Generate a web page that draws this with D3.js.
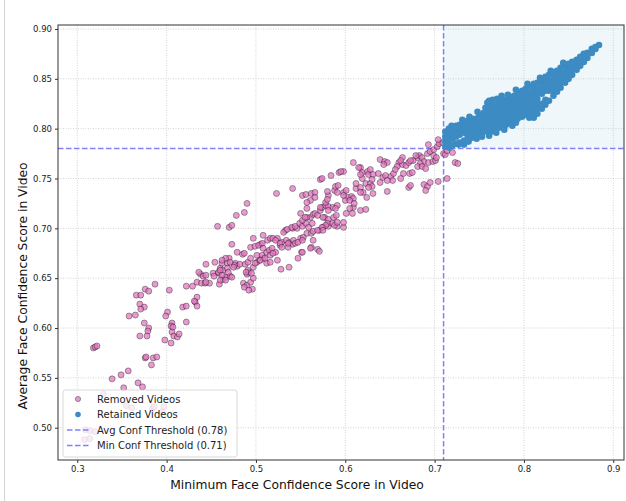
<!DOCTYPE html>
<html>
<head>
<meta charset="utf-8">
<script src="https://cdn.jsdelivr.net/npm/d3@7"></script>
<style>
body { margin: 0; background: #fff; }
text { font-family: "DejaVu Sans", sans-serif; }
</style>
</head>
<body>
<svg id="chart" width="626" height="501"></svg>
<script>
// min / avg face confidence per video
var removedVideos = [
  [0.308,0.488],[0.314,0.489],[0.309,0.498],[0.314,0.497],[0.320,0.496],[0.329,0.534],[0.318,0.580],[0.320,0.581],[0.322,0.582],[0.339,0.549],
  [0.349,0.553],[0.357,0.557],[0.352,0.540],[0.368,0.545],[0.373,0.541],[0.355,0.522],[0.361,0.520],[0.384,0.519],[0.386,0.521],[0.397,0.521],
  [0.395,0.516],[0.376,0.570],[0.377,0.571],[0.385,0.570],[0.389,0.571],[0.383,0.563],[0.398,0.588],[0.405,0.585],[0.406,0.596],[0.408,0.592],
  [0.412,0.591],[0.414,0.594],[0.406,0.605],[0.405,0.602],[0.407,0.601],[0.422,0.606],[0.380,0.600],[0.379,0.597],[0.378,0.592],[0.370,0.592],
  [0.375,0.605],[0.358,0.612],[0.365,0.613],[0.401,0.616],[0.399,0.612],[0.370,0.624],[0.375,0.621],[0.371,0.619],[0.366,0.633],[0.371,0.633],
  [0.376,0.639],[0.380,0.637],[0.387,0.644],[0.403,0.638],
  [0.422,0.642],[0.429,0.642],[0.434,0.646],[0.439,0.645],[0.443,0.645],[0.448,0.645],[0.432,0.626],[0.434,0.631],[0.434,0.622],[0.418,0.621],
  [0.422,0.622],[0.431,0.627],[0.438,0.654],[0.444,0.646],[0.452,0.655],[0.458,0.655],[0.460,0.660],[0.462,0.665],[0.468,0.665],[0.470,0.670],
  [0.477,0.665],[0.479,0.662],[0.482,0.664],[0.486,0.645],[0.490,0.643],[0.494,0.646],[0.496,0.639],[0.490,0.654],[0.492,0.656],[0.497,0.661],
  [0.501,0.666],[0.504,0.668],[0.508,0.670],[0.436,0.656],[0.441,0.652],[0.444,0.653],[0.444,0.664],[0.454,0.666],[0.453,0.652],[0.458,0.656],
  [0.459,0.644],[0.463,0.658],[0.468,0.660],[0.471,0.666],[0.476,0.663],[0.463,0.649],[0.466,0.651],[0.471,0.652],[0.469,0.656],[0.487,0.641],
  [0.491,0.658],[0.489,0.656],[0.497,0.650],[0.492,0.638],
  [0.457,0.702],[0.470,0.701],[0.473,0.703],[0.478,0.713],[0.487,0.716],[0.490,0.725],[0.473,0.684],[0.497,0.690],[0.479,0.676],[0.485,0.674],
  [0.487,0.675],[0.494,0.681],[0.499,0.682],[0.505,0.684],[0.501,0.673],[0.507,0.673],[0.512,0.676],[0.515,0.678],[0.518,0.680],[0.522,0.676],
  [0.505,0.668],[0.512,0.665],[0.516,0.666],[0.524,0.668],[0.508,0.693],[0.513,0.688],[0.516,0.690],[0.519,0.690],[0.524,0.690],
  [0.466,0.670],[0.462,0.668],[0.475,0.661],[0.460,0.658],[0.462,0.653],[0.460,0.648],[0.466,0.648],[0.473,0.651],[0.488,0.664],[0.491,0.666],
  [0.494,0.670],[0.499,0.665],[0.495,0.655],[0.503,0.683],[0.507,0.685],[0.508,0.680],[0.522,0.688],[0.510,0.670],[0.516,0.673],[0.519,0.675],
  [0.527,0.683],[0.529,0.686],[0.533,0.698],[0.541,0.700],[0.546,0.700],[0.537,0.686],[0.541,0.684],[0.536,0.681],[0.550,0.690],[0.553,0.691],
  [0.551,0.676],[0.571,0.698],[0.575,0.701],[0.581,0.702],[0.591,0.702],
  [0.527,0.685],[0.529,0.681],[0.534,0.688],[0.536,0.685],[0.542,0.688],[0.544,0.685],[0.547,0.686],[0.531,0.696],[0.535,0.699],[0.540,0.701],
  [0.544,0.702],[0.549,0.705],[0.552,0.702],[0.556,0.705],[0.559,0.701],[0.563,0.705],[0.528,0.659],[0.537,0.661],[0.547,0.670],[0.552,0.676],
  [0.562,0.681],[0.569,0.679],[0.571,0.677],[0.557,0.695],[0.562,0.695],[0.564,0.697],[0.569,0.698],[0.561,0.711],[0.564,0.714],[0.566,0.715],
  [0.569,0.713],[0.572,0.718],[0.574,0.721],[0.578,0.723],[0.581,0.722],[0.586,0.721],[0.591,0.723],[0.577,0.711],[0.581,0.709],[0.587,0.711],
  [0.590,0.713],[0.580,0.705],[0.586,0.705],[0.588,0.703],[0.591,0.706],[0.552,0.733],[0.556,0.734],[0.562,0.735],[0.566,0.736],[0.581,0.733],
  [0.588,0.738],[0.591,0.736],[0.523,0.735],[0.541,0.740],[0.572,0.749],[0.552,0.708],[0.557,0.711],
  [0.574,0.750],[0.584,0.753],[0.593,0.756],[0.598,0.757],[0.589,0.742],[0.592,0.743],[0.578,0.726],[0.580,0.729],[0.572,0.721],[0.581,0.718],
  [0.589,0.720],[0.598,0.736],[0.601,0.738],[0.603,0.731],[0.607,0.732],[0.609,0.730],[0.600,0.728],[0.609,0.721],[0.605,0.720],[0.608,0.715],
  [0.612,0.740],[0.617,0.741],[0.612,0.745],[0.619,0.750],[0.609,0.766],[0.617,0.761],[0.619,0.756],[0.625,0.757],[0.626,0.754],[0.623,0.745],
  [0.628,0.745],[0.630,0.742],[0.626,0.741],[0.631,0.735],[0.620,0.736],[0.624,0.731],[0.617,0.718],[0.623,0.719],[0.601,0.715],[0.598,0.701],
  [0.575,0.711],[0.578,0.703],[0.574,0.701],
  [0.639,0.769],[0.644,0.767],[0.647,0.766],[0.643,0.764],[0.637,0.755],[0.642,0.751],[0.645,0.753],[0.651,0.752],[0.654,0.755],[0.653,0.748],
  [0.647,0.748],[0.639,0.746],[0.647,0.737],[0.660,0.766],[0.664,0.764],[0.668,0.763],[0.671,0.766],[0.658,0.762],[0.656,0.759],[0.664,0.771],
  [0.672,0.755],[0.675,0.756],[0.665,0.755],[0.662,0.750],[0.671,0.741],[0.673,0.743],[0.676,0.768],[0.681,0.771],[0.683,0.773],[0.686,0.771],
  [0.688,0.767],[0.684,0.765],[0.681,0.762],[0.692,0.775],[0.695,0.777],[0.699,0.779],[0.693,0.784],[0.703,0.782],[0.705,0.785],[0.709,0.786],
  [0.686,0.762],[0.690,0.760],[0.693,0.766],[0.698,0.767],[0.701,0.768],[0.688,0.744],[0.692,0.742],[0.695,0.746],[0.690,0.738],[0.704,0.747],
  [0.714,0.750],[0.699,0.773],[0.702,0.771],[0.710,0.775],[0.712,0.774],[0.714,0.778],[0.720,0.776],[0.723,0.766],[0.726,0.765],[0.704,0.789],
  [0.679,0.773],[0.673,0.768],[0.662,0.768],
  [0.595,0.757],[0.615,0.761],[0.617,0.754],[0.628,0.759],[0.631,0.754],[0.630,0.749],[0.598,0.733],[0.605,0.728],[0.610,0.725],[0.617,0.736],
  [0.580,0.737],[0.566,0.731],[0.561,0.728],[0.557,0.726],[0.557,0.720],[0.550,0.715],[0.555,0.711],[0.598,0.706],[0.575,0.698],[0.564,0.688],
  [0.561,0.680],[0.552,0.688]
];

var retainedVideos = [
  [0.712,0.782],[0.712,0.787],[0.712,0.792],[0.712,0.797],
  [0.716,0.781],[0.716,0.786],[0.716,0.791],[0.716,0.796],[0.716,0.800],
  [0.720,0.783],[0.720,0.790],[0.720,0.795],[0.720,0.801],
  [0.724,0.785],[0.724,0.792],[0.724,0.797],[0.724,0.803],
  [0.728,0.786],[0.728,0.794],[0.728,0.799],[0.728,0.804],[0.727,0.784],
  [0.733,0.784],[0.733,0.788],[0.733,0.796],[0.733,0.801],[0.733,0.806],
  [0.737,0.793],[0.737,0.799],[0.737,0.804],[0.737,0.808],
  [0.742,0.791],[0.742,0.797],[0.742,0.802],[0.742,0.807],[0.742,0.810],
  [0.746,0.795],[0.746,0.800],[0.746,0.805],[0.746,0.810],
  [0.750,0.796],[0.750,0.801],[0.750,0.806],[0.750,0.811],[0.750,0.814],
  [0.755,0.797],[0.755,0.802],[0.755,0.807],[0.755,0.812],[0.755,0.816],
  [0.759,0.798],[0.759,0.804],[0.759,0.809],[0.759,0.814],[0.759,0.819],[0.759,0.826],
  [0.763,0.797],[0.763,0.803],[0.763,0.808],[0.763,0.813],[0.763,0.818],[0.763,0.823],
  [0.767,0.800],[0.767,0.805],[0.767,0.810],[0.767,0.815],[0.767,0.820],[0.767,0.824],
  [0.772,0.801],[0.772,0.806],[0.772,0.811],[0.772,0.816],[0.772,0.821],[0.772,0.826],
  [0.776,0.803],[0.776,0.808],[0.776,0.813],[0.776,0.818],[0.776,0.823],[0.776,0.828],
  [0.780,0.804],[0.780,0.809],[0.780,0.814],[0.780,0.819],[0.780,0.824],[0.780,0.829],[0.782,0.834],
  [0.785,0.806],[0.785,0.811],[0.785,0.816],[0.785,0.821],[0.785,0.826],[0.785,0.831],
  [0.789,0.808],[0.789,0.813],[0.789,0.818],[0.789,0.823],[0.789,0.828],[0.789,0.833],
  [0.793,0.810],[0.793,0.815],[0.793,0.820],[0.793,0.825],[0.793,0.830],[0.793,0.835],
  [0.798,0.812],[0.798,0.817],[0.798,0.822],[0.798,0.827],[0.798,0.832],[0.798,0.838],
  [0.802,0.814],[0.802,0.819],[0.802,0.824],[0.802,0.829],[0.802,0.834],[0.802,0.840],
  [0.806,0.811],[0.806,0.816],[0.806,0.821],[0.806,0.826],[0.806,0.831],[0.806,0.836],[0.806,0.842],
  [0.811,0.811],[0.811,0.816],[0.811,0.821],[0.811,0.826],[0.811,0.831],[0.811,0.836],[0.811,0.841],[0.811,0.845],
  [0.815,0.815],[0.815,0.820],[0.815,0.825],[0.815,0.830],[0.815,0.835],[0.815,0.840],[0.815,0.846],
  [0.820,0.820],[0.820,0.825],[0.820,0.835],[0.820,0.840],[0.820,0.845],[0.820,0.849],
  [0.824,0.824],[0.824,0.829],[0.824,0.838],[0.824,0.843],[0.824,0.848],[0.824,0.852],
  [0.828,0.828],[0.828,0.838],[0.828,0.843],[0.828,0.848],[0.828,0.854],
  [0.833,0.833],[0.833,0.838],[0.833,0.843],[0.833,0.848],[0.833,0.853],[0.833,0.856],
  [0.837,0.837],[0.837,0.842],[0.837,0.847],[0.837,0.852],[0.837,0.858],
  [0.841,0.841],[0.841,0.846],[0.841,0.851],[0.841,0.856],[0.841,0.861],
  [0.846,0.846],[0.846,0.851],[0.846,0.856],[0.846,0.862],
  [0.850,0.850],[0.850,0.855],[0.850,0.860],[0.850,0.865],
  [0.854,0.854],[0.854,0.859],[0.854,0.864],[0.854,0.867],
  [0.859,0.859],[0.859,0.864],[0.859,0.869],
  [0.863,0.863],[0.863,0.868],[0.863,0.872],
  [0.867,0.867],[0.867,0.871],[0.867,0.875],
  [0.871,0.871],[0.871,0.876],
  [0.876,0.876],[0.876,0.880],
  [0.880,0.880],[0.880,0.882],
  [0.884,0.884],
  // loose points round the dense band
  [0.719,0.803],[0.731,0.809],[0.739,0.812],[0.748,0.817],[0.757,0.821],[0.761,0.828],[0.765,0.829],[0.770,0.830],
  [0.738,0.787],[0.747,0.790],[0.753,0.792],[0.761,0.793],[0.769,0.796],[0.778,0.799],[0.787,0.803],[0.791,0.806],
  [0.775,0.833],[0.791,0.839],[0.804,0.845],[0.818,0.851],[0.830,0.858],[0.844,0.866]
];

var xTicks = [0.3, 0.4, 0.5, 0.6, 0.7, 0.8, 0.9];
var yTicks = [0.50, 0.55, 0.60, 0.65, 0.70, 0.75, 0.80, 0.85, 0.90];
var avgThreshold = 0.78;
var minThreshold = 0.71;
var legendLabels = ["Removed Videos", "Retained Videos", "Avg Conf Threshold (0.78)", "Min Conf Threshold (0.71)"];

var pink = "#e377c2", blue = "#3d8bc3", lineBlue = "#8080ff";
var plotL = 58, plotR = 624, plotT = 25, plotB = 460;

var svg = d3.select("#chart");

var x = d3.scaleLinear().domain([0.2784, 0.912]).range([plotL, plotR]);
var y = d3.scaleLinear().domain([0.4676, 0.904]).range([plotB, plotT]);

// thin frame line at the far left of the figure
svg.append("line").attr("x1", 4.5).attr("x2", 4.5).attr("y1", 0).attr("y2", 501)
    .attr("stroke", "#d4d4d4").attr("stroke-width", 1);

// grid
var grid = svg.append("g").attr("class", "grid");
grid.selectAll(".gx").data(xTicks).enter().append("line")
    .attr("x1", function (d) { return x(d); }).attr("x2", function (d) { return x(d); })
    .attr("y1", plotT).attr("y2", plotB);
grid.selectAll(".gy").data(yTicks).enter().append("line")
    .attr("x1", plotL).attr("x2", plotR)
    .attr("y1", function (d) { return y(d); }).attr("y2", function (d) { return y(d); });
grid.selectAll("line").attr("stroke", "#c8c8c8").attr("stroke-width", 0.8).attr("stroke-dasharray", "1,1.5");

// retained region
svg.append("rect")
    .attr("x", x(minThreshold)).attr("y", plotT)
    .attr("width", plotR - x(minThreshold)).attr("height", y(avgThreshold) - plotT)
    .attr("fill", "#add8e6").attr("fill-opacity", 0.2);

// threshold lines
svg.append("line").attr("x1", plotL).attr("x2", plotR)
    .attr("y1", y(avgThreshold)).attr("y2", y(avgThreshold))
    .attr("stroke", lineBlue).attr("stroke-width", 1.5).attr("stroke-dasharray", "5.5,2.5");
svg.append("line").attr("x1", x(minThreshold)).attr("x2", x(minThreshold))
    .attr("y1", plotT).attr("y2", plotB)
    .attr("stroke", lineBlue).attr("stroke-width", 1.5).attr("stroke-dasharray", "5.5,2.5");

// points
svg.append("g").selectAll("circle").data(removedVideos).enter().append("circle")
    .attr("cx", function (d) { return x(d[0]); })
    .attr("cy", function (d) { return y(d[1]); })
    .attr("r", 3)
    .attr("fill", pink).attr("stroke", "#000").attr("stroke-width", 0.5)
    .attr("opacity", 0.75);

svg.append("g").selectAll("circle").data(retainedVideos).enter().append("circle")
    .attr("cx", function (d) { return x(d[0]); })
    .attr("cy", function (d) { return y(d[1]); })
    .attr("r", 3.3)
    .attr("fill", blue);

// axes
var xAxis = svg.append("g").attr("transform", "translate(0," + plotB + ")")
    .call(d3.axisBottom(x).tickValues(xTicks).tickFormat(d3.format(".1f")).tickSize(3).tickPadding(3));
var yAxis = svg.append("g").attr("transform", "translate(" + plotL + ",0)")
    .call(d3.axisLeft(y).tickValues(yTicks).tickFormat(d3.format(".2f")).tickSize(3).tickPadding(3));
[xAxis, yAxis].forEach(function (a) {
    a.select(".domain").remove();
    a.selectAll(".tick line").attr("stroke", "#333");
    a.selectAll(".tick text").attr("fill", "#222").style("font-size", "8.5px")
        .style("font-family", "'DejaVu Sans', sans-serif");
});

// frame
svg.append("rect").attr("x", plotL).attr("y", plotT)
    .attr("width", plotR - plotL).attr("height", plotB - plotT)
    .attr("fill", "none").attr("stroke", "#333").attr("stroke-width", 1);

// axis labels
svg.append("text").attr("x", 297).attr("y", 489).attr("text-anchor", "middle")
    .style("font-size", "12.3px").attr("fill", "#111")
    .text("Minimum Face Confidence Score in Video");
svg.append("text").attr("transform", "translate(27,286) rotate(-90)").attr("text-anchor", "middle")
    .style("font-size", "12.3px").attr("fill", "#111")
    .text("Average Face Confidence Score in Video");

// legend
var lg = svg.append("g").attr("transform", "translate(63,390)");
lg.append("rect").attr("width", 174).attr("height", 67).attr("rx", 2.5)
    .attr("fill", "#fff").attr("fill-opacity", 0.8).attr("stroke", "#cfcfcf").attr("stroke-width", 0.8);
var rows = lg.selectAll(".row").data(legendLabels).enter().append("g")
    .attr("transform", function (d, i) { return "translate(0," + (9 + i * 15.5) + ")"; });
rows.append("text").attr("x", 34).attr("y", 3.6).style("font-size", "10px").attr("fill", "#222")
    .text(function (d) { return d; });
rows.filter(function (d, i) { return i === 0; }).append("circle")
    .attr("cx", 15).attr("cy", 0).attr("r", 2.6)
    .attr("fill", pink).attr("stroke", "#000").attr("stroke-width", 0.5).attr("opacity", 0.75);
rows.filter(function (d, i) { return i === 1; }).append("circle")
    .attr("cx", 15).attr("cy", 0).attr("r", 2.8)
    .attr("fill", blue);
rows.filter(function (d, i) { return i > 1; }).append("line")
    .attr("x1", 4).attr("x2", 26).attr("y1", 0).attr("y2", 0)
    .attr("stroke", lineBlue).attr("stroke-width", 1.5).attr("stroke-dasharray", "5.5,2.5");
</script>
</body>
</html>
